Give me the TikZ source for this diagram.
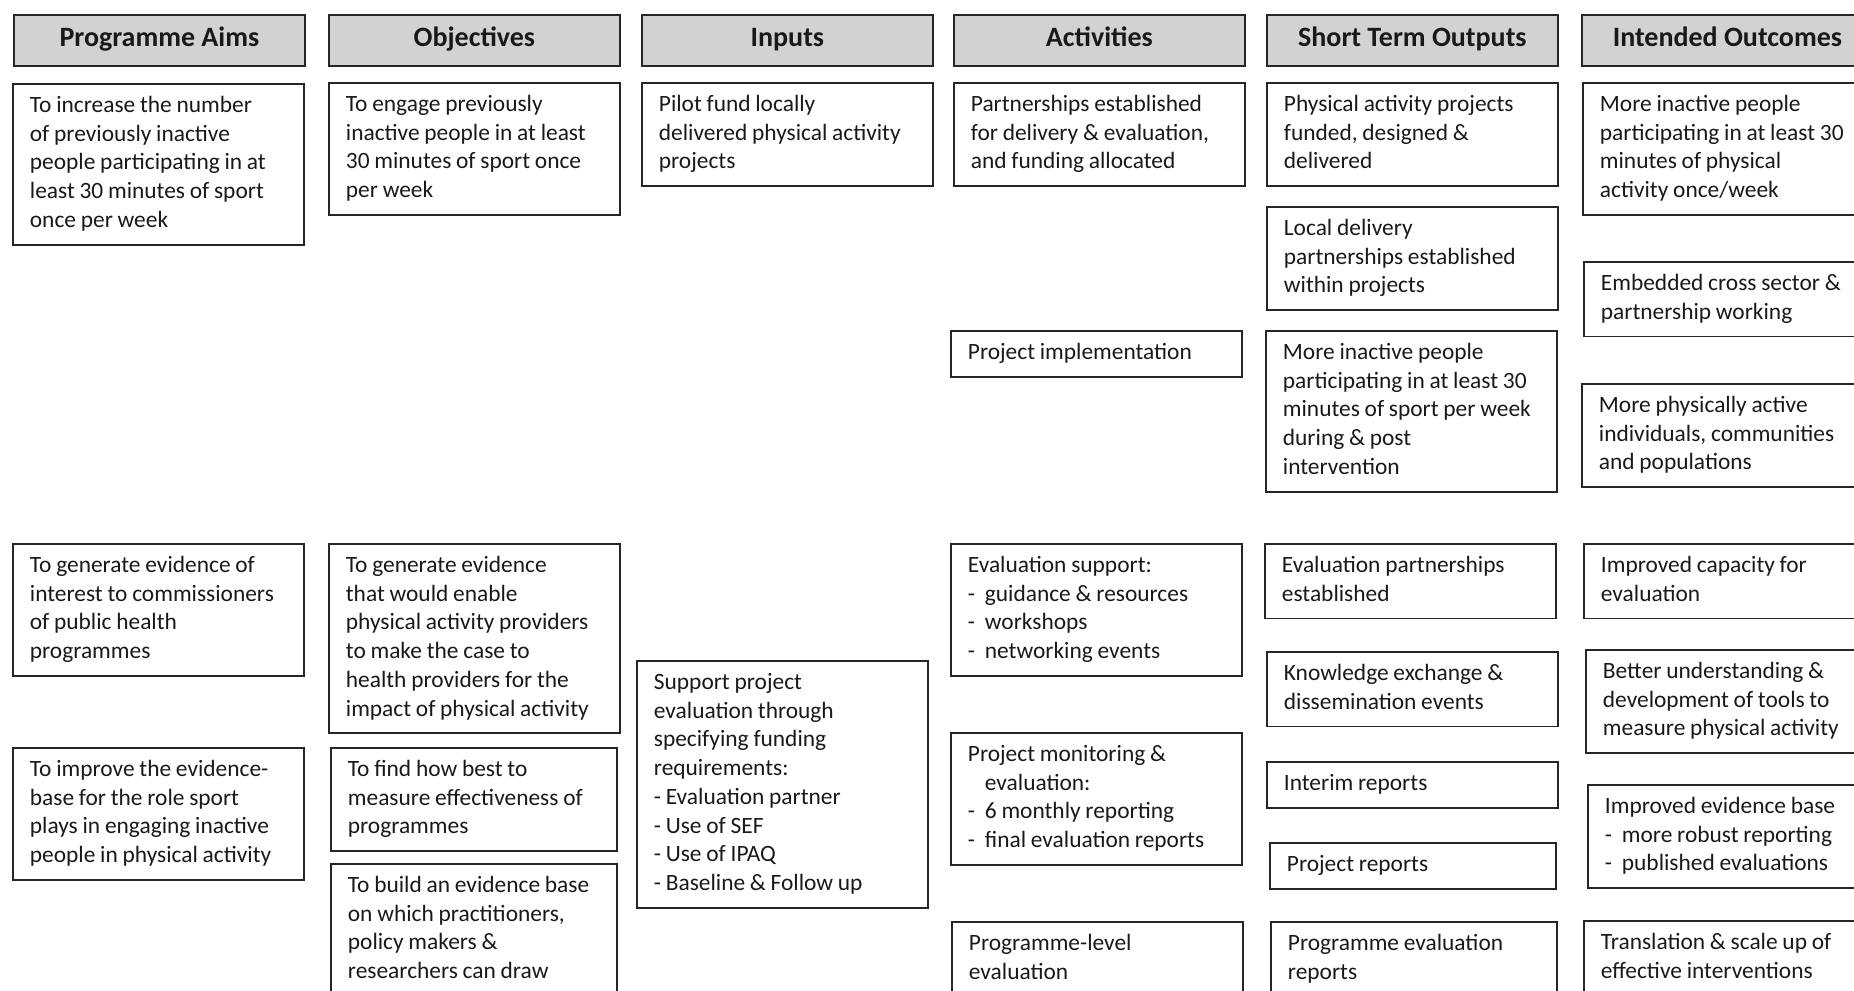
\documentclass[tikz,border=0pt]{standalone}
\usepackage{fontspec}
\setmainfont{Carlito}
\definecolor{headgray}{RGB}{210,210,210}
\newcommand{\dashitem}{\makebox[8.5pt][l]{-}}

\begin{document}
\begin{tikzpicture}[
  x=0.5pt, y=-0.5pt,
  every node/.style={text=black!90},
  head/.style={draw=black!85, line width=0.9pt, fill=headgray, anchor=north west,
    minimum width=145.5pt, minimum height=25.5pt, inner sep=0pt,
    font=\fontsize{14pt}{16pt}\selectfont\bfseries,
    execute at begin node=\strut},
  box/.style={draw=black!85, line width=0.9pt, anchor=north west,
    text width=137.5pt, inner xsep=4pt, inner ysep=4.3pt, align=left,
    font=\fontsize{11.7pt}{14.35pt}\selectfont,
    execute at begin node={\leftskip=4.5pt\spaceskip=0.9\fontdimen2\font\strut},
    execute at end node=\strut},
  narrow box/.style={box, text width=135pt}
  ]
  \useasboundingbox (0,0) rectangle (1854,991);
  \clip (0,0) rectangle (1854,991);

  % column headings
  \foreach \n/\x/\t in {aims/13/Programme Aims, obj/328/Objectives, inp/641/Inputs,
      act/953/Activities, sto/1266/Short Term Outputs, out/1581/Intended Outcomes}
    \node[head] (h\n) at (\x,14) {\t};

  % programme aims
  \node[box] (aim1) at (12,83) {To increase the number\\of previously inactive\\people participating in at\\least 30 minutes of sport\\once per week};
  \node[box] (aim2) at (12,543) {To generate evidence of\\interest to commissioners\\of public health\\programmes};
  \node[box] (aim3) at (12,747) {To improve the evidence-\\base for the role sport\\plays in engaging inactive\\people in physical activity};

  % objectives
  \node[box] (obj1) at (328,82) {To engage previously\\inactive people in at least\\30 minutes of sport once\\per week};
  \node[box] (obj2) at (328,543) {To generate evidence\\that would enable\\physical activity providers\\to make the case to\\health providers for the\\impact of physical activity};
  \node[narrow box] (obj3) at (330,747) {To find how best to\\measure effectiveness of\\programmes};
  \node[narrow box] (obj4) at (330,863) {To build an evidence base\\on which practitioners,\\policy makers \&\\researchers can draw};

  % inputs
  \node[box] (inp1) at (641,82) {Pilot fund locally\\delivered physical activity\\projects};
  \node[box] (inp2) at (636,660) {Support project\\evaluation through\\specifying funding\\requirements:\\- Evaluation partner\\- Use of SEF\\- Use of IPAQ\\- Baseline \& Follow up};

  % activities
  \node[box] (act1) at (953,82) {Partnerships established\\for delivery \& evaluation,\\and funding allocated};
  \node[box] (act2) at (950,330) {Project implementation};
  \node[box] (act3) at (950,543) {Evaluation support:\\\dashitem guidance \& resources\\\dashitem workshops\\\dashitem networking events};
  \node[box] (act4) at (950,732) {Project monitoring \&\\\hspace*{8.5pt}evaluation:\\\dashitem 6 monthly reporting\\\dashitem final evaluation reports};
  \node[box] (act5) at (951,921) {Programme-level\\evaluation};

  % short term outputs
  \node[box] (sto1) at (1266,82) {Physical activity projects\\funded, designed \&\\delivered};
  \node[box] (sto2) at (1266,206) {Local delivery\\partnerships established\\within projects};
  \node[box] (sto3) at (1265,330) {More inactive people\\participating in at least 30\\minutes of sport per week\\during \& post\\intervention};
  \node[box] (sto4) at (1264,543) {Evaluation partnerships\\established};
  \node[box] (sto5) at (1266,651) {Knowledge exchange \&\\dissemination events};
  \node[box] (sto6) at (1266,761) {Interim reports};
  \node[narrow box] (sto7) at (1269,842) {Project reports};
  \node[narrow box] (sto8) at (1270,921) {Programme evaluation\\reports};

  % intended outcomes
  \node[box] (out1) at (1582,82) {More inactive people\\participating in at least 30\\minutes of physical\\activity once/week};
  \node[box] (out2) at (1583,261) {Embedded cross sector \&\\partnership working};
  \node[box] (out3) at (1581,383) {More physically active\\individuals, communities\\and populations};
  \node[box] (out4) at (1583,543) {Improved capacity for\\evaluation};
  \node[box] (out5) at (1585,649) {Better understanding \&\\development of tools to\\measure physical activity};
  \node[box] (out6) at (1587,784) {Improved evidence base\\\dashitem more robust reporting\\\dashitem published evaluations};
  \node[box] (out7) at (1583,920) {Translation \& scale up of\\effective interventions};
\end{tikzpicture}
\end{document}
